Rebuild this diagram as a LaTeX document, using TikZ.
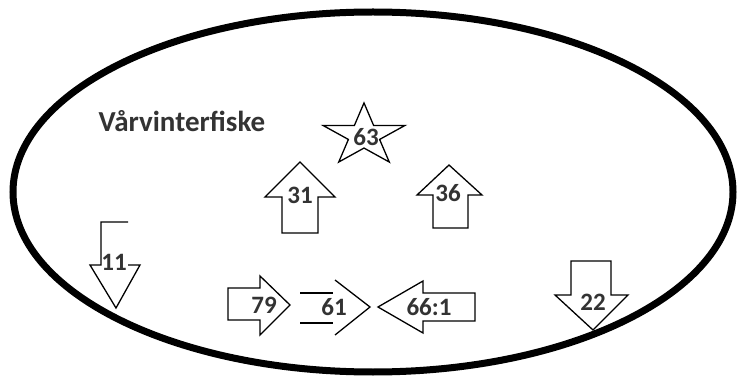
\documentclass[tikz,border=0pt]{standalone}
\usepackage{fontspec}
\setmainfont{Carlito}
\usetikzlibrary{positioning}
\tikzset{outline/.style={draw, line width=1.3pt, line join=miter},
lbl/.style={font=\fontsize{25}{25}\selectfont\bfseries, text=black!80, inner sep=0pt},
heading/.style={font=\fontsize{29}{29}\selectfont\bfseries, text=black!80, inner sep=0pt},
rim/.style={draw, line width=7pt}
}

\begin{document}
\begin{tikzpicture}[x=1pt,y=-1pt]
\useasboundingbox[fill=white] (0,0) rectangle (739,382);
\draw[rim] (373,192) ellipse [x radius=360pt, y radius=180pt];

\node[heading] (title) at (182,121) {Vårvinterfiske};

% star
\begin{scope}[shift={(364,135.6)}, yscale=0.76]
\draw[outline] (-90:43) \foreach \k in {1,...,9} { -- ({-90+36*\k}:{ifthenelse(mod(\k,2)==1,16.4,43)}) } -- cycle;
\end{scope}
\node[lbl] (n63) at (366,137) {63};

% up arrows
\draw[outline] (282,233) -- (282,197) -- (265,197) -- (300,162) -- (335,197) -- (318,197) -- (318,233) -- cycle;
\node[lbl] (n31) at (300,195) {31};
\draw[outline] (433,228) -- (433,195) -- (417,195) -- (449,165) -- (482,195) -- (468,195) -- (468,228) -- cycle;
\node[lbl] (n36) at (448,193) {36};

% down arrows
\draw[outline] (128,222) -- (101,222) -- (101,265) -- (90,265) -- (116,308) -- (140,265) -- (128,265);
\node[lbl] (n11) at (114,262) {11};
\draw[outline] (571,261) -- (611,261) -- (611,295) -- (628,295) -- (593,330) -- (555,295) -- (571,295) -- cycle;
\node[lbl] (n22) at (593,302) {22};

% bottom row
\draw[outline] (228,288) -- (260,288) -- (260,276) -- (290,305) -- (260,335) -- (260,320) -- (228,320) -- cycle;
\node[lbl] (n79) at (264,305) {79};
\draw[outline] (300,293) -- (333,293);
\draw[outline] (300,323) -- (333,323);
\draw[outline] (335,280) -- (370,307) -- (335,335);
\node[lbl] (n61) at (334,307) {61};
\draw[outline] (475,293) -- (423,293) -- (423,281) -- (378,307) -- (423,333) -- (423,321) -- (475,321) -- cycle;
\node[lbl] (n66) at (429,307) {66:1};
\end{tikzpicture}
\end{document}
